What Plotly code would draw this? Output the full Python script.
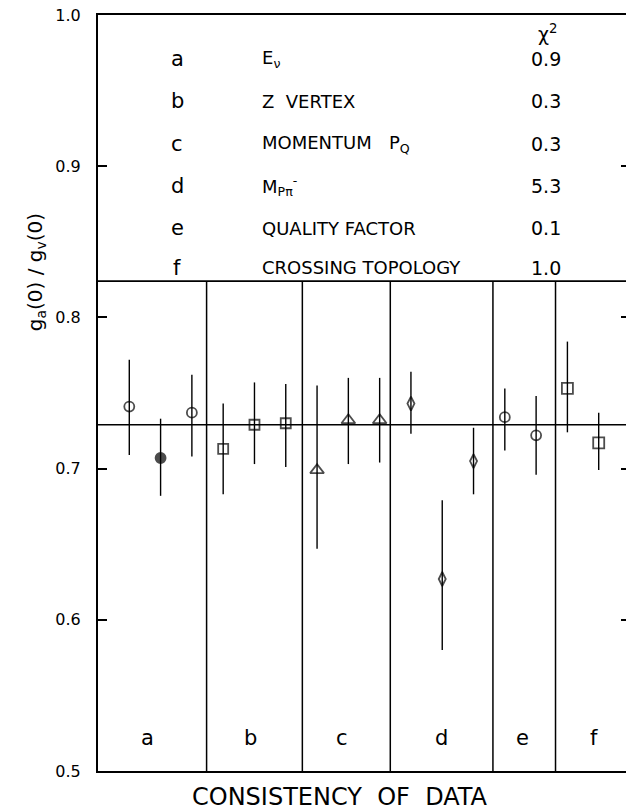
import plotly.graph_objects as go

# ---- data ----
groups = ["a", "a", "a", "b", "b", "b", "c", "c", "c", "d", "d", "d", "e", "e", "f", "f"]
x_pos = list(range(1, 17))
ratio = [0.741, 0.707, 0.737, 0.713, 0.729, 0.730, 0.699, 0.732, 0.732,
         0.743, 0.627, 0.705, 0.734, 0.722, 0.753, 0.717]
err_plus = [0.031, 0.026, 0.025, 0.030, 0.028, 0.026, 0.056, 0.028, 0.028,
            0.021, 0.052, 0.022, 0.019, 0.026, 0.031, 0.020]
err_minus = [0.032, 0.025, 0.029, 0.030, 0.026, 0.029, 0.052, 0.029, 0.028,
             0.020, 0.047, 0.022, 0.022, 0.026, 0.029, 0.018]
filled = [False, True, False, False, False, False, False, False, False,
          False, False, False, False, False, False, False]

mean_ratio = 0.729
divider_x = [3.47, 6.53, 9.34, 12.62, 14.62]
table_bottom = 0.824

section_labels = ["a", "b", "c", "d", "e", "f"]
section_label_x = [1.58, 4.86, 7.81, 10.99, 13.56, 15.85]

table_letters = ["a", "b", "c", "d", "e", "f"]
table_names = ["E<sub>ν</sub>", "Z\u00a0\u00a0VERTEX", "MOMENTUM\u00a0\u00a0\u00a0P<sub>Q</sub>",
               "M<sub>Pπ</sub><sup>-</sup>", "QUALITY\u00a0FACTOR", "CROSSING\u00a0TOPOLOGY"]
chi2_values = ["0.9", "0.3", "0.3", "5.3", "0.1", "1.0"]
table_row_y = [0.971, 0.943, 0.915, 0.887, 0.859, 0.833]

y_ticks = [0.5, 0.6, 0.7, 0.8, 0.9, 1.0]

# ---- styles ----
sym_map = {"a": "circle-open", "b": "square-open", "c": "triangle-up-open",
           "d": "diamond-tall-open", "e": "circle-open", "f": "square-open"}
size_map = {"a": 10, "b": 10, "c": 12, "d": 10, "e": 10, "f": 11}
symbols = []
sizes = []
for g, f in zip(groups, filled):
    s = sym_map[g]
    if f:
        s = s.replace("-open", "")
    symbols.append(s)
    sizes.append(size_map[g])

FONT = "DejaVu Sans"
fig = go.Figure()

fig.add_trace(go.Scatter(
    x=x_pos, y=ratio, mode="markers",
    marker=dict(symbol=symbols, size=sizes, color="black",
                line=dict(color="black", width=1.8)),
    error_y=dict(type="data", array=err_plus, arrayminus=err_minus,
                 symmetric=False, color="black", thickness=1.4, width=0),
    showlegend=False, cliponaxis=False,
))

shapes = []
shapes.append(dict(type="line", xref="x", yref="y", x0=0, x1=17, y0=mean_ratio, y1=mean_ratio,
                   line=dict(color="black", width=1.7), layer="below"))
shapes.append(dict(type="line", xref="x", yref="y", x0=0, x1=17, y0=table_bottom, y1=table_bottom,
                   line=dict(color="black", width=1.7), layer="below"))
for dx in divider_x:
    shapes.append(dict(type="line", xref="x", yref="y", x0=dx, x1=dx, y0=0.5, y1=table_bottom,
                       line=dict(color="black", width=1.5), layer="below"))

annotations = []
for lab, lx in zip(section_labels, section_label_x):
    annotations.append(dict(x=lx, y=0.522, xref="x", yref="y", text=lab, showarrow=False,
                            font=dict(family=FONT, size=21, color="black")))
for let, name, val, ry in zip(table_letters, table_names, chi2_values, table_row_y):
    annotations.append(dict(x=2.54, y=ry, xref="x", yref="y", text=let, showarrow=False,
                            font=dict(family=FONT, size=21, color="black")))
    annotations.append(dict(x=5.19, y=ry, xref="x", yref="y", text=name, showarrow=False,
                            xanchor="left", font=dict(family=FONT, size=18, color="black")))
    annotations.append(dict(x=14.32, y=ry, xref="x", yref="y", text=val, showarrow=False,
                            font=dict(family=FONT, size=19, color="black")))
annotations.append(dict(x=14.35, y=0.988, xref="x", yref="y", text="χ<sup>2</sup>", showarrow=False,
                        font=dict(family=FONT, size=19, color="black")))
annotations.append(dict(x=7.74, y=-0.035, xref="x", yref="paper", xanchor="center", yanchor="middle",
                        text="CONSISTENCY\u00a0\u00a0OF\u00a0\u00a0DATA",
                        showarrow=False, font=dict(family=FONT, size=24, color="black")))
annotations.append(dict(x=-0.116, y=0.83, xref="paper", yref="y", xanchor="center", yanchor="middle",
                        text="g<sub>a</sub>(0) / g<sub>v</sub>(0)", textangle=-90, showarrow=False,
                        font=dict(family=FONT, size=20, color="black")))

fig.update_layout(
    width=626, height=804,
    margin=dict(l=90, r=4, t=7, b=41),
    paper_bgcolor="white", plot_bgcolor="white",
    shapes=shapes, annotations=annotations,
    font=dict(family=FONT, color="black"),
)
fig.update_xaxes(range=[0, 17], showgrid=False, zeroline=False, showticklabels=False,
                 ticks="", showline=True, mirror=True, linecolor="black", linewidth=2)
fig.update_yaxes(range=[0.5, 1.0], tickvals=y_ticks, ticktext=[f"{v:.1f}" for v in y_ticks],
                 showgrid=False, zeroline=False, ticks="inside", ticklen=9, tickwidth=2,
                 tickcolor="black", showline=True, mirror="ticks", linecolor="black", linewidth=2,
                 tickfont=dict(family=FONT, size=16, color="black"), ticklabelstandoff=12,
                 ticklabeloverflow="allow", automargin=False)

fig.write_html("out.html")
